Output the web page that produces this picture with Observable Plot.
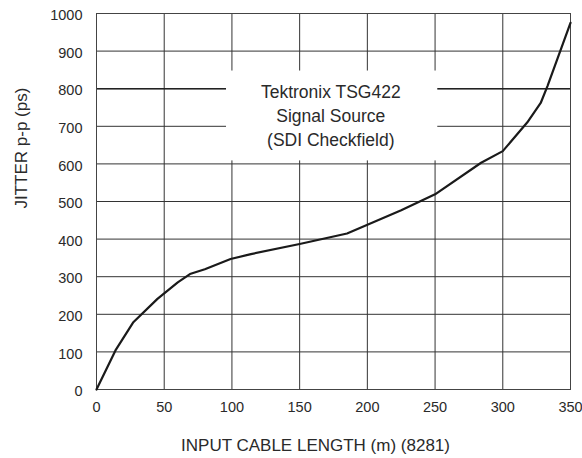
<!DOCTYPE html>
<html>
<head>
<meta charset="utf-8">
<script src="https://cdn.jsdelivr.net/npm/d3@7"></script>
<script src="https://cdn.jsdelivr.net/npm/@observablehq/plot@0.6"></script>
<style>
  html, body { margin: 0; padding: 0; background: #fff; }
  #chart svg { display: block; }
</style>
</head>
<body>
<div id="chart"></div>
<script>
// Data
const cableLength = [0, 14, 27, 45, 60, 69, 80, 99, 114, 150, 185, 225, 250, 284, 300, 318, 328, 333, 350];
const jitter      = [0, 104, 178, 241, 285, 307, 320, 347, 360, 387, 415, 477, 519, 603, 634, 710, 762, 807, 975];

// Tick labels
const xTicks = [0, 50, 100, 150, 200, 250, 300, 350];
const yTicks = [0, 100, 200, 300, 400, 500, 600, 700, 800, 900, 1000];

// Texts
const xLabel = "INPUT CABLE LENGTH (m) (8281)";
const yLabel = "JITTER p-p (ps)";
const noteLines = ["Tektronix TSG422", "Signal Source", "(SDI Checkfield)"];

// Annotation box (in data units)
const noteBox = [{x1: 96, x2: 252, y1: 608, y2: 847}];
const notePos = [{x: 173, y: 732}];

const points = cableLength.map((x, i) => ({x, y: jitter[i]}));

const font = "'Liberation Sans', Arial, Helvetica, sans-serif";
const ink = "#2a2a2a";

const chart = Plot.plot({
  width: 582,
  height: 458,
  marginLeft: 96,
  marginRight: 12,
  marginTop: 13,
  marginBottom: 69,
  style: {fontFamily: font, color: ink, background: "#fff"},
  x: {domain: [0, 350], ticks: xTicks},
  y: {domain: [0, 1000], ticks: yTicks},
  marks: [
    Plot.gridX(xTicks, {stroke: "#333", strokeOpacity: 1, strokeWidth: 1}),
    Plot.gridY(yTicks, {stroke: "#333", strokeOpacity: 1, strokeWidth: 1}),
    Plot.ruleY([800], {stroke: "#222", strokeWidth: 1.6}),
    Plot.frame({stroke: "#444", strokeWidth: 1}),
    Plot.rect(noteBox, {x1: "x1", x2: "x2", y1: "y1", y2: "y2", fill: "white"}),
    Plot.text(notePos, {
      x: "x", y: "y", text: () => noteLines.join("\n"),
      fontSize: 17.5, lineHeight: 1.38, fill: ink, textAnchor: "middle"
    }),
    Plot.line(points, {x: "x", y: "y", stroke: "#1a1a1a", strokeWidth: 2.2, curve: "linear"}),
    Plot.axisX(xTicks, {tickSize: 0, tickPadding: 12, fontSize: 14.5, label: null, fill: ink}),
    Plot.axisY(yTicks, {tickSize: 0, tickPadding: 14, fontSize: 14.5, label: null, fill: ink, dy: 2,
      tickFormat: d => String(d)}),
    Plot.text([xLabel], {frameAnchor: "bottom", text: d => d, dx: -18, dy: 56,
      fontSize: 17, fill: ink, lineAnchor: "middle"}),
    Plot.text([yLabel], {frameAnchor: "left", text: d => d, rotate: -90, dx: -75, dy: 7,
      fontSize: 17, fill: ink, lineAnchor: "middle"})
  ]
});

document.getElementById("chart").appendChild(chart);
</script>
</body>
</html>
